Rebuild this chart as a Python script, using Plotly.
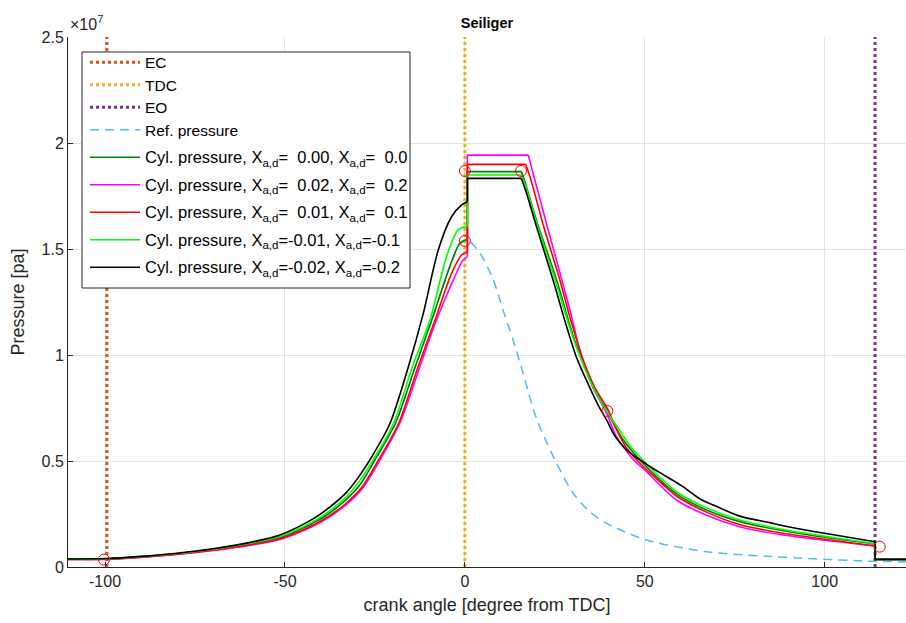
import plotly.graph_objects as go

SCALE = 1e7  # pressures below are listed in units of 1e7 Pa

# Event markers [degree from TDC]
EC_ANGLE = -99.5
TDC_ANGLE = 0.0
EO_ANGLE = 114.0
COMB_ANGLE = 0.7        # start of combustion (constant-volume jump)
X_START = -110.3
X_END = 122.6
EXHAUST_P = 0.036

# Reference (motored) pressure
ref_deg = [-110.3, -99.5, -90, -80, -70, -60, -51.4, -42.1, -37.5, -32.9, -29, -25, -19.3, -13.8, -9.2,
           -4.2, -1.4, 0, 0.9, 4.2, 7.9, 10.6, 13.4, 16.2, 19, 20.8, 25.5, 30.1, 34.7, 39.4, 50.5, 67.1,
           85.6, 113.4, 122.6]
ref_p = [0.036, 0.037, 0.047, 0.061, 0.081, 0.107, 0.138, 0.207, 0.255, 0.318, 0.39, 0.503, 0.676, 0.943,
         1.163, 1.415, 1.525, 1.538, 1.542, 1.48, 1.354, 1.212, 1.071, 0.914, 0.745, 0.662, 0.489, 0.348,
         0.261, 0.206, 0.127, 0.072, 0.049, 0.027, 0.025]

# Cylinder pressure, X = 0.00 / 0.0
p0_comp_deg = [-110.3, -99.5, -90, -80, -70, -60, -51.4, -42.1, -37.5, -32.9, -29, -25, -19.3, -13.8,
               -9.2, -4.2, -1.4, 0.7]
p0_comp_p = [0.037, 0.038, 0.048, 0.062, 0.082, 0.108, 0.139, 0.208, 0.256, 0.32, 0.392, 0.505, 0.678,
             0.945, 1.165, 1.417, 1.527, 1.546]
p0_plateau = 1.865
p0_exp_deg = [15.7, 17, 20, 25.5, 30.5, 35.6, 40.3, 44, 49.5, 58.8, 67, 76.4, 88, 100, 114]
p0_exp_p = [1.865, 1.80, 1.63, 1.354, 1.07, 0.86, 0.709, 0.60, 0.49, 0.345, 0.27, 0.214, 0.172, 0.140, 0.108]

# Cylinder pressure, X = 0.02 / 0.2
pp2_comp_deg = [-110.3, -99.5, -90, -80, -70, -60, -51.4, -42.1, -37.5, -32.9, -28.5, -23.6, -18.1,
                -12.5, -7.9, -3.2, -0.5, 0.7]
pp2_comp_p = [0.036, 0.036, 0.045, 0.059, 0.078, 0.102, 0.130, 0.193, 0.238, 0.295, 0.37, 0.505, 0.678,
              0.945, 1.165, 1.354, 1.448, 1.464]
pp2_plateau = 1.943
pp2_exp_deg = [17.6, 23, 29.2, 32.4, 35.5, 39.4, 42.1, 47.2, 49.5, 58.8, 67, 76.4, 88, 100, 114]
pp2_exp_p = [1.943, 1.60, 1.212, 0.992, 0.85, 0.725, 0.615, 0.50, 0.466, 0.316, 0.245, 0.190, 0.152, 0.126, 0.099]

# Cylinder pressure, X = 0.01 / 0.1
pp1_comp_deg = [-110.3, -99.5, -90, -80, -70, -60, -51.4, -42.1, -37.5, -32.9, -28.7, -24, -18.4, -13,
                -8.3, -3.7, -0.9, 0.7]
pp1_comp_p = [0.036, 0.037, 0.046, 0.060, 0.079, 0.104, 0.133, 0.198, 0.243, 0.302, 0.375, 0.505, 0.678,
              0.945, 1.165, 1.385, 1.472, 1.487]
pp1_plateau = 1.899
pp1_exp_deg = [16.9, 18.1, 22, 26.4, 29.5, 32.9, 36, 39.8, 42.1, 45, 49.5, 55, 58.8, 67, 76.4, 88, 100, 114]
pp1_exp_p = [1.899, 1.841, 1.60, 1.354, 1.16, 0.976, 0.85, 0.741, 0.65, 0.56, 0.475, 0.39, 0.335, 0.26,
             0.200, 0.160, 0.131, 0.099]

# Cylinder pressure, X = -0.01 / -0.1
pm1_comp_deg = [-110.3, -99.5, -90, -80, -70, -60, -51.4, -42.1, -37.5, -32.9, -29.3, -25.5, -19.8,
                -14.6, -9.7, -5.1, -1.9, 0.7]
pm1_comp_p = [0.037, 0.039, 0.049, 0.064, 0.084, 0.111, 0.144, 0.215, 0.266, 0.332, 0.405, 0.505, 0.678,
              0.945, 1.165, 1.464, 1.590, 1.608]
pm1_plateau = 1.849
pm1_exp_deg = [15.7, 17, 20, 25, 30.5, 35.6, 40, 43, 46, 48.6, 58.8, 67, 76.4, 88, 100, 114]
pm1_exp_p = [1.849, 1.79, 1.62, 1.36, 1.06, 0.85, 0.72, 0.645, 0.57, 0.520, 0.355, 0.28, 0.222, 0.178,
             0.145, 0.110]

# Cylinder pressure, X = -0.02 / -0.2
pm2_comp_deg = [-110.3, -99.5, -90, -80, -70, -60, -51.4, -42.1, -37.5, -32.9, -29.5, -26.4, -20.8,
                -15.7, -11.5, -7.4, -3.7, -0.9, 0.7]
pm2_comp_p = [0.038, 0.040, 0.050, 0.065, 0.086, 0.115, 0.151, 0.228, 0.283, 0.352, 0.425, 0.505, 0.678,
              0.945, 1.20, 1.495, 1.652, 1.708, 1.723]
pm2_plateau = 1.833
pm2_exp_deg = [15.7, 17, 20, 24.5, 28, 31, 33.8, 37, 39.5, 41.2, 43, 45, 47.2, 49.4, 52, 55, 60.6, 65.3,
               70, 76.4, 85, 92, 100, 114]
pm2_exp_p = [1.833, 1.77, 1.60, 1.354, 1.15, 0.99, 0.88, 0.765, 0.69, 0.632, 0.588, 0.552, 0.522, 0.497,
             0.468, 0.437, 0.379, 0.322, 0.285, 0.240, 0.208, 0.183, 0.159, 0.119]

# Seiliger cycle corner points
seiliger_deg = [-100.3, 0.0, 0.0, 15.6, 39.6, 115.3]
seiliger_p = [0.035, 1.868, 1.538, 1.868, 0.736, 0.096]

Y_MAX = 2.5

cyl_series = [
    ("c0", p0_comp_deg, p0_comp_p, p0_plateau, p0_exp_deg, p0_exp_p, "#008000", "0.00", "0.0"),
    ("c1", pp2_comp_deg, pp2_comp_p, pp2_plateau, pp2_exp_deg, pp2_exp_p, "#FF00FF", "0.02", "0.2"),
    ("c2", pp1_comp_deg, pp1_comp_p, pp1_plateau, pp1_exp_deg, pp1_exp_p, "#FF0000", "0.01", "0.1"),
    ("c3", pm1_comp_deg, pm1_comp_p, pm1_plateau, pm1_exp_deg, pm1_exp_p, "#00FF00", "-0.01", "-0.1"),
    ("c4", pm2_comp_deg, pm2_comp_p, pm2_plateau, pm2_exp_deg, pm2_exp_p, "#000000", "-0.02", "-0.2"),
]


def fmt(v):
    # positive values get two spaces after '=' so the columns line up
    return ("\u00a0 " + v) if not v.startswith("-") else v


XSUB = 'X<sub>a,d</sub>='

fig = go.Figure()

for name, ang, col in [("EC", EC_ANGLE, "#D95319"), ("TDC", TDC_ANGLE, "#EDB120"),
                       ("EO", EO_ANGLE, "#7E2F8E")]:
    fig.add_trace(go.Scatter(x=[ang, ang], y=[0, Y_MAX * SCALE], mode="lines",
                             name='<span style="font-size:15.5px">' + name + '</span>',
                             legendgroup="events",
                             line=dict(color=col, width=3, dash="dot")))

fig.add_trace(go.Scatter(x=ref_deg, y=[v * SCALE for v in ref_p], mode="lines",
                         name='<span style="font-size:15.5px">Ref. pressure</span>',
                         legendgroup="events",
                         line=dict(color="#4DBEEE", width=1.5, dash="9px,6px", shape="spline",
                                   smoothing=0.8)))

LW = 1.6
for grp, cd, cp, plat, ed, ep, col, xa, xd in cyl_series:
    nm = ('<span style="font-size:16.5px">Cyl. pressure, ' + XSUB + fmt(xa) + ", " + XSUB + fmt(xd) +
          '</span>')
    # compression stroke
    fig.add_trace(go.Scatter(x=cd, y=[v * SCALE for v in cp], mode="lines", name=nm,
                             legendgroup=grp, showlegend=True,
                             line=dict(color=col, width=LW, shape="spline", smoothing=0.8)))
    # constant-volume jump and constant-pressure plateau
    fig.add_trace(go.Scatter(x=[cd[-1], COMB_ANGLE, ed[0]],
                             y=[cp[-1] * SCALE, plat * SCALE, plat * SCALE],
                             mode="lines", legendgroup=grp, showlegend=False,
                             line=dict(color=col, width=LW)))
    # expansion stroke
    fig.add_trace(go.Scatter(x=ed, y=[v * SCALE for v in ep], mode="lines",
                             legendgroup=grp, showlegend=False,
                             line=dict(color=col, width=LW, shape="spline", smoothing=0.8)))
    # exhaust blow-down
    fig.add_trace(go.Scatter(x=[ed[-1], EO_ANGLE, X_END],
                             y=[ep[-1] * SCALE, EXHAUST_P * SCALE, EXHAUST_P * SCALE],
                             mode="lines", legendgroup=grp, showlegend=False,
                             line=dict(color=col, width=LW)))

fig.add_trace(go.Scatter(x=seiliger_deg, y=[v * SCALE for v in seiliger_p], mode="markers",
                         showlegend=False,
                         marker=dict(symbol="circle-open", size=11, color="#FF0000",
                                     line=dict(width=1))))

axis_col = "#262626"

# framed white box behind the legend entries
fig.add_shape(type="rect", xref="paper", yref="paper", x0=0.0167, x1=0.4081, y0=0.5264, y1=0.9717,
              fillcolor="white", line=dict(color="#262626", width=1), layer="above")

fig.update_layout(
    width=906, height=623,
    margin=dict(l=68, r=0, t=37, b=56),
    paper_bgcolor="white", plot_bgcolor="white",
    font=dict(family="Liberation Sans, Arial, sans-serif", size=14, color=axis_col),
    title=dict(text="<b>Seiliger</b>", x=0.5375, xanchor="center", y=0.963, yanchor="middle",
               font=dict(size=14.5, color="#000000")),
    legend=dict(x=0.0203, y=0.983, xanchor="left", yanchor="top",
                bgcolor="rgba(0,0,0,0)", borderwidth=0,
                font=dict(size=15, color="#000000"), tracegroupgap=5,
                itemwidth=50, traceorder="grouped"),
    showlegend=True,
)
fig.update_xaxes(range=[X_START, X_END], tickvals=[-100, -50, 0, 50, 100],
                 ticktext=["-100", "-50", "0", "50", "100"],
                 showgrid=True, gridcolor="#E3E3E3", gridwidth=1, zeroline=False,
                 showline=True, linecolor=axis_col, linewidth=1,
                 ticks="inside", ticklen=5, tickcolor=axis_col,
                 tickfont=dict(size=16, color=axis_col),
                 title=dict(text="crank angle [degree from TDC]", font=dict(size=18, color=axis_col),
                            standoff=9))
fig.update_yaxes(range=[0, Y_MAX * SCALE],
                 tickvals=[v * SCALE for v in [0, 0.5, 1, 1.5, 2, 2.5]],
                 ticktext=["0", "0.5", "1", "1.5", "2", "2.5"],
                 showgrid=True, gridcolor="#E3E3E3", gridwidth=1, zeroline=False,
                 showline=True, linecolor=axis_col, linewidth=1,
                 ticks="inside", ticklen=5, tickcolor=axis_col,
                 tickfont=dict(size=16, color=axis_col),
                 title=dict(text="Pressure [pa]", font=dict(size=18, color=axis_col), standoff=12))
fig.add_annotation(text="\u00d710<sup>7</sup>", xref="paper", yref="paper", x=0.0, y=1.0,
                   xanchor="left", yanchor="bottom", showarrow=False,
                   font=dict(size=16, color=axis_col), yshift=2)

fig.write_html("out.html")
